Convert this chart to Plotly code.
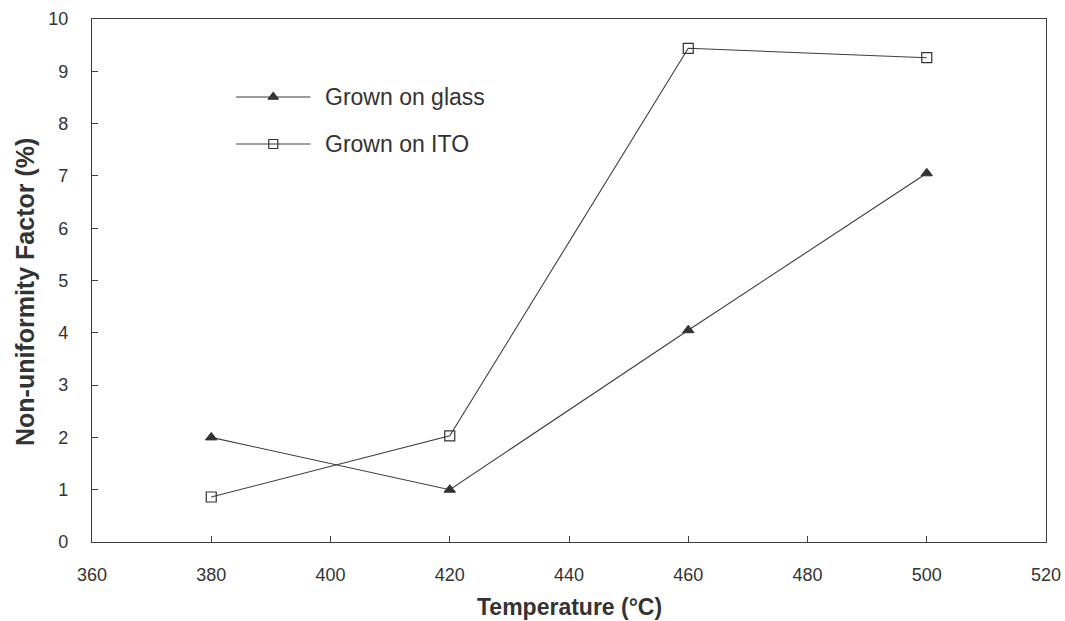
import plotly.graph_objects as go

temps = [380, 420, 460, 500]
glass = [2.0, 1.0, 4.05, 7.05]
ito = [0.86, 2.03, 9.44, 9.26]
series_names = ["Grown on glass", "Grown on ITO"]

x_ticks = [360, 380, 400, 420, 440, 460, 480, 500, 520]
y_ticks = list(range(0, 11))

line_col = "#3d3d3d"
text_col = "#333333"
font_fam = "Liberation Sans, Arial, sans-serif"

fig = go.Figure()
fig.add_trace(go.Scatter(
    x=temps, y=glass, mode="lines+markers", name=series_names[0],
    line=dict(color=line_col, width=1.1),
    marker=dict(symbol="triangle-up", size=10, color="#333333",
                line=dict(color="#333333", width=1)),
    showlegend=False))
fig.add_trace(go.Scatter(
    x=temps, y=ito, mode="lines+markers", name=series_names[1],
    line=dict(color=line_col, width=1.1),
    marker=dict(symbol="square-open", size=10, color="#333333",
                line=dict(color="#333333", width=1.2)),
    showlegend=False))

# custom legend (paper-coordinate overlay axes)
leg_x0, leg_x1 = 0.151, 0.229
leg_y = [0.851, 0.761]
leg_syms = ["triangle-up", "square"]
leg_fill = ["#333333", "white"]
for i in range(2):
    fig.add_shape(type="line", xref="paper", yref="paper",
                  x0=leg_x0, x1=leg_x1, y0=leg_y[i], y1=leg_y[i],
                  line=dict(color=line_col, width=1.1))
    fig.add_annotation(xref="paper", yref="paper", x=leg_x1 + 0.013, y=leg_y[i],
                       text=series_names[i], showarrow=False, xanchor="left",
                       yanchor="middle",
                       font=dict(family=font_fam, size=23, color=text_col))
fig.add_trace(go.Scatter(
    x=[(leg_x0 + leg_x1) / 2] * 2, y=leg_y, mode="markers",
    xaxis="x2", yaxis="y2", showlegend=False, hoverinfo="skip",
    marker=dict(symbol=leg_syms, size=9, color=leg_fill,
                line=dict(color="#333333", width=1.2))))

# axis titles as annotations for exact placement
fig.add_annotation(xref="paper", yref="paper", x=0.5, y=-0.125,
                   text="Temperature (°C)", showarrow=False,
                   xanchor="center", yanchor="middle",
                   font=dict(family=font_fam, size=23, color=text_col, weight="bold"))
fig.add_annotation(xref="paper", yref="paper", x=-0.0702, y=0.478,
                   text="Non-uniformity Factor (%)", showarrow=False, textangle=-90,
                   xanchor="center", yanchor="middle",
                   font=dict(family=font_fam, size=25, color=text_col, weight="bold"))

axis_common = dict(
    showline=True, linecolor=line_col, linewidth=1.2, mirror=True,
    ticks="inside", ticklen=6, tickcolor=line_col, tickwidth=1,
    showgrid=False, zeroline=False, automargin=False,
    tickfont=dict(family=font_fam, size=18, color=text_col),
)

fig.update_layout(
    width=1065, height=621,
    margin=dict(l=92, r=19, t=19, b=79),
    paper_bgcolor="white", plot_bgcolor="white",
    xaxis=dict(range=[360, 520], tickvals=x_ticks, ticklabelstandoff=16, **axis_common),
    yaxis=dict(range=[0, 10], tickvals=y_ticks, ticklabelstandoff=19, **axis_common),
    xaxis2=dict(range=[0, 1], domain=[0, 1], overlaying="x", visible=False, fixedrange=True),
    yaxis2=dict(range=[0, 1], domain=[0, 1], overlaying="y", visible=False, fixedrange=True),
)

fig.write_html("out.html")
